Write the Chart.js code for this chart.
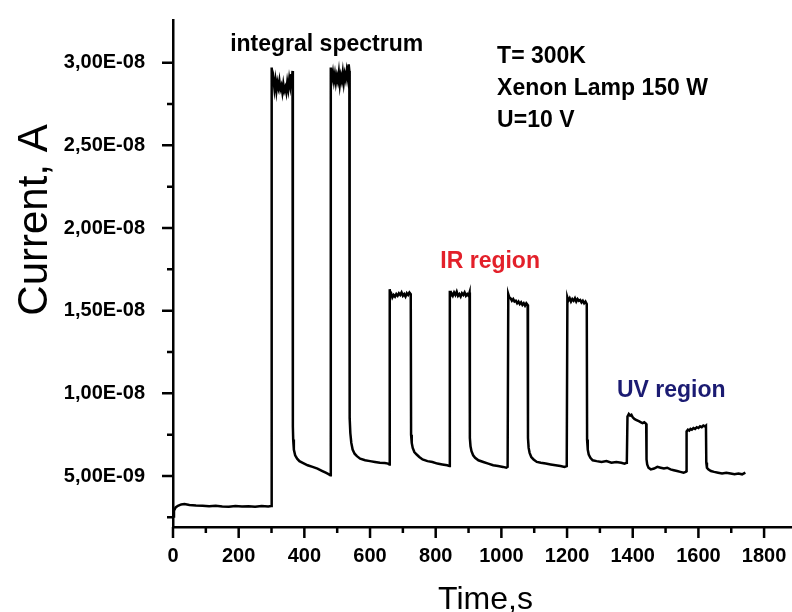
<!DOCTYPE html>
<html>
<head>
<meta charset="utf-8">
<script src="https://cdn.jsdelivr.net/npm/chart.js@4.4.1/dist/chart.umd.min.js"></script>
<style>
  html, body { margin: 0; padding: 0; background: #fff; }
  #wrap { width: 792px; height: 612px; }
</style>
</head>
<body>
<div id="wrap"><canvas id="c" width="792" height="612"></canvas></div>
<script>
// ---- Data (time in s, current in nA = 1e-9 A) ----
const timeS = [
  0, 3, 8, 15, 25, 35, 50, 70, 90, 110, 130, 150, 170, 190, 210, 230, 250, 270, 290, 299,
  300, 301, 303, 306, 309, 312, 315, 318, 321, 324, 327, 330, 333, 336, 339, 342, 345, 348, 351, 354, 357, 360, 362, 364,
  365, 366, 368, 372, 378, 385, 395, 410, 425, 440, 455, 465, 475, 479,
  480, 481, 484, 487, 490, 493, 496, 499, 502, 505, 508, 511, 514, 517, 520, 523, 526, 529, 532, 535, 537,
  538, 540, 543, 547, 553, 560, 570, 585, 600, 615, 630, 645, 655, 659,
  660, 662, 665, 668, 672, 676, 680, 684, 688, 692, 696, 700, 704, 708, 712, 716, 720, 724,
  725, 727, 730, 735, 742, 750, 760, 775, 790, 805, 820, 835, 842,
  843, 845, 848, 852, 856, 860, 864, 868, 872, 876, 880, 884, 888, 892, 896, 900, 903,
  904, 906, 909, 914, 920, 930, 945, 960, 975, 990, 1005, 1015, 1019,
  1021, 1024, 1028, 1032, 1036, 1040, 1044, 1048, 1052, 1056, 1060, 1064, 1068, 1072, 1076, 1080,
  1081, 1083, 1086, 1091, 1098, 1108, 1120, 1135, 1150, 1165, 1180, 1192, 1199,
  1201, 1204, 1208, 1212, 1216, 1220, 1224, 1228, 1232, 1236, 1240, 1244, 1248, 1252, 1256, 1260,
  1261, 1263, 1266, 1271, 1278, 1290, 1305, 1320, 1335, 1350, 1365, 1375, 1381,
  1382, 1384, 1388, 1392, 1396, 1400, 1405, 1410, 1415, 1420, 1425, 1430, 1435, 1441,
  1442, 1444, 1448, 1455, 1465, 1475, 1485, 1495, 1505, 1515, 1525, 1535, 1545, 1555, 1562,
  1563, 1564, 1568, 1572, 1576, 1580, 1585, 1590, 1595, 1600, 1605, 1610, 1615, 1620, 1623,
  1624, 1626, 1630, 1638, 1648, 1660, 1672, 1685, 1698, 1710, 1722, 1733, 1743
];
const currentNA = [
  2.55, 2.9, 3.1, 3.2, 3.28, 3.3, 3.25, 3.22, 3.2, 3.17, 3.2, 3.16, 3.14, 3.18, 3.15, 3.17, 3.14, 3.18, 3.15, 3.18,
  3.2, 29.7, 28.6, 29.0, 28.4, 28.9, 28.3, 28.8, 28.5, 28.9, 28.4, 28.6, 28.2, 28.7, 28.3, 28.5, 28.2, 28.8, 28.4, 29.0, 28.6, 29.3, 28.8, 29.5,
  8.0, 7.2, 6.6, 6.25, 6.05, 5.9, 5.8, 5.65, 5.55, 5.45, 5.3, 5.2, 5.1, 5.05,
  29.3, 29.7, 29.0, 29.4, 28.9, 29.3, 28.8, 29.2, 28.9, 29.4, 28.7, 29.2, 28.9, 29.4, 28.8, 29.3, 29.0, 29.5, 29.1, 29.9, 29.5,
  8.5, 7.6, 7.0, 6.6, 6.35, 6.2, 6.05, 5.95, 5.9, 5.85, 5.8, 5.78, 5.75, 5.7,
  16.3, 15.9, 16.0, 15.8, 15.95, 15.85, 16.0, 15.9, 16.05, 15.95, 16.1, 15.9, 16.0, 15.85, 16.05, 15.95, 16.1, 16.0,
  7.5, 7.0, 6.7, 6.45, 6.3, 6.15, 6.0, 5.9, 5.85, 5.75, 5.7, 5.65, 5.6,
  16.2, 15.9, 16.05, 15.9, 16.1, 15.95, 16.15, 15.9, 16.0, 15.85, 16.05, 15.95, 16.1, 15.9, 16.0, 15.9, 16.1,
  7.3, 6.8, 6.5, 6.25, 6.1, 5.95, 5.85, 5.75, 5.65, 5.6, 5.55, 5.5, 5.55,
  16.0, 15.8, 15.75, 15.6, 15.7, 15.55, 15.6, 15.45, 15.55, 15.4, 15.5, 15.35, 15.45, 15.3, 15.45, 15.35,
  7.3, 6.7, 6.4, 6.15, 6.0, 5.85, 5.8, 5.75, 5.7, 5.65, 5.6, 5.55, 5.6,
  15.8, 15.6, 15.75, 15.55, 15.7, 15.6, 15.75, 15.55, 15.7, 15.6, 15.65, 15.5, 15.6, 15.45, 15.55, 15.4,
  7.2, 6.6, 6.3, 6.1, 5.95, 5.9, 5.85, 5.9, 5.8, 5.85, 5.8, 5.75, 5.8,
  5.85, 8.6, 8.75, 8.65, 8.7, 8.55, 8.45, 8.4, 8.35, 8.3, 8.25, 8.2, 8.25, 8.15,
  6.0, 5.7, 5.5, 5.4, 5.45, 5.55, 5.5, 5.45, 5.5, 5.4, 5.35, 5.3, 5.25, 5.2, 5.25,
  5.3, 7.7, 7.8, 7.75, 7.85, 7.8, 7.9, 7.85, 7.95, 7.9, 8.0, 7.95, 8.05, 8.0, 8.05,
  5.8, 5.5, 5.4, 5.3, 5.25, 5.2, 5.15, 5.2, 5.15, 5.1, 5.15, 5.1, 5.2
];

// ---- Axes ----
const xMajorTicks = [0, 200, 400, 600, 800, 1000, 1200, 1400, 1600, 1800];
const xMinorTicks = [100, 300, 500, 700, 900, 1100, 1300, 1500, 1700];
const yMajorTicksNA = [5, 10, 15, 20, 25, 30];
const yMinorTicksNA = [2.5, 7.5, 12.5, 17.5, 22.5, 27.5];
const xRange = [0, 1885];
const yRangeNA = [1.915, 32.58];

const xTitle = 'Time,s';
const yTitle = 'Current, A';
const notes = [
  { text: 'integral spectrum', color: '#000000' },
  { text: 'T= 300K', color: '#000000' },
  { text: 'Xenon Lamp 150 W', color: '#000000' },
  { text: 'U=10 V', color: '#000000' },
  { text: 'IR region', color: '#e3202a' },
  { text: 'UV region', color: '#1b1b72' }
];
// anchor (data coords: time s, current nA) of each note's left end / baseline
const noteAnchors = [
  [174, 30.73], [987, 29.96], [987, 28.05], [987, 26.1], [814, 17.56], [1352, 9.8]
];

const NA = 1e-9;
const points = timeS.map((t, i) => ({ x: t, y: currentNA[i] * NA }));

function fmtExp(v) {
  // 5e-9 -> "5,00E-09"
  const s = v.toExponential(2);
  const [m, e] = s.split('e');
  const en = parseInt(e, 10);
  const sign = en < 0 ? '-' : '+';
  const ea = String(Math.abs(en)).padStart(2, '0');
  return m.replace('.', ',') + 'E' + sign + ea;
}

const LABEL_FONT = { family: "'Liberation Sans', Arial, sans-serif", size: 20, weight: 'bold' };

const decor = {
  id: 'decor',
  afterDraw(chart) {
    const { ctx, chartArea: ca, scales } = chart;
    const xs = scales.x, ys = scales.y;
    ctx.save();
    ctx.strokeStyle = '#000';
    ctx.lineWidth = 2.5;
    ctx.lineCap = 'butt';
    ctx.beginPath();
    yMajorTicksNA.forEach(v => { const p = ys.getPixelForValue(v * NA); ctx.moveTo(ca.left - 11, p); ctx.lineTo(ca.left, p); });
    yMinorTicksNA.forEach(v => { const p = ys.getPixelForValue(v * NA); ctx.moveTo(ca.left - 6, p); ctx.lineTo(ca.left, p); });
    xMajorTicks.forEach(v => { const p = xs.getPixelForValue(v); ctx.moveTo(p, ca.bottom); ctx.lineTo(p, ca.bottom + 11); });
    xMinorTicks.forEach(v => { const p = xs.getPixelForValue(v); ctx.moveTo(p, ca.bottom); ctx.lineTo(p, ca.bottom + 6); });
    ctx.stroke();

    // axis titles
    ctx.fillStyle = '#000';
    ctx.textAlign = 'center';
    ctx.textBaseline = 'alphabetic';
    ctx.font = "32px 'Liberation Sans', Arial, sans-serif";
    ctx.fillText(xTitle, (ca.left + ca.right) / 2 + 3, 609);
    ctx.save();
    ctx.font = "42px 'Liberation Sans', Arial, sans-serif";
    ctx.translate(47, 220);
    ctx.rotate(-Math.PI / 2);
    ctx.fillText(yTitle, 0, 0);
    ctx.restore();

    // annotations
    ctx.font = "bold 23px 'Liberation Sans', Arial, sans-serif";
    ctx.textAlign = 'left';
    notes.forEach((n, i) => {
      const [tx, ty] = noteAnchors[i];
      ctx.fillStyle = n.color;
      ctx.fillText(n.text, xs.getPixelForValue(tx), ys.getPixelForValue(ty * NA));
    });
    ctx.restore();
  }
};

new Chart(document.getElementById('c'), {
  type: 'scatter',
  data: {
    datasets: [{
      data: points,
      showLine: true,
      borderColor: '#000',
      borderWidth: 2.5,
      pointRadius: 0,
      tension: 0,
      fill: false
    }]
  },
  options: {
    responsive: false,
    devicePixelRatio: 1,
    animation: false,
    events: [],
    layout: { padding: { top: 20, right: 0, left: 0, bottom: 0 } },
    plugins: { legend: { display: false }, tooltip: { enabled: false }, title: { display: false } },
    scales: {
      x: {
        type: 'linear',
        min: xRange[0],
        max: xRange[1],
        grid: { display: false },
        border: { display: true, color: '#000', width: 2.5 },
        afterBuildTicks(s) { s.ticks = xMajorTicks.map(v => ({ value: v })); },
        afterFit(s) { s.height = 85; s.paddingLeft = 0; s.paddingRight = 0; },
        ticks: {
          color: '#000',
          font: LABEL_FONT,
          padding: 9,
          maxRotation: 0,
          autoSkip: false,
          callback: v => String(v)
        }
      },
      y: {
        type: 'linear',
        min: yRangeNA[0] * NA,
        max: yRangeNA[1] * NA,
        grid: { display: false },
        border: { display: true, color: '#000', width: 2.5 },
        afterBuildTicks(s) { s.ticks = yMajorTicksNA.map(v => ({ value: v * NA })); },
        afterFit(s) { s.width = 173; s.paddingTop = 0; s.paddingBottom = 0; },
        ticks: {
          color: '#000',
          font: LABEL_FONT,
          padding: 20,
          autoSkip: false,
          callback: v => fmtExp(v)
        }
      }
    }
  },
  plugins: [decor]
});
</script>
</body>
</html>
